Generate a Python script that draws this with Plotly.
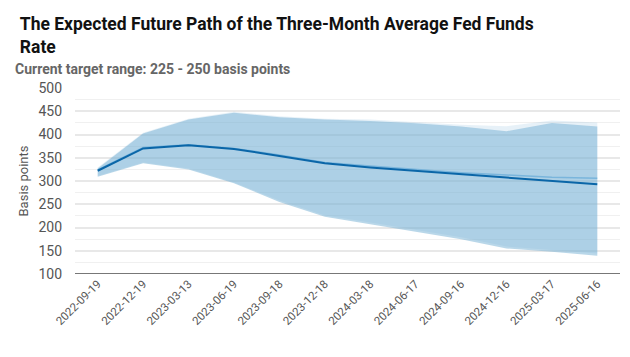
import plotly.graph_objects as go

dates = ["2022-09-19", "2022-12-19", "2023-03-13", "2023-06-19", "2023-09-18", "2023-12-18",
         "2024-03-18", "2024-06-17", "2024-09-16", "2024-12-16", "2025-03-17", "2025-06-16"]

# current expectation
current_mid = [322, 370, 377, 369, 354, 338, 329, 322, 314, 307, 300, 293]
current_high = [327, 402, 432, 447, 437, 432, 429, 424, 417, 407, 425, 417]
current_low = [309, 338, 325, 295, 255, 223, 207, 191, 175, 155, 148, 139]

# previous expectation
previous_mid = [324, 372, 378, 370, 356, 340, 332, 325, 318, 313, 308, 306]
previous_high = [329, 404, 434, 449, 439, 434, 432, 427, 421, 418, 430, 426]
previous_low = [311, 340, 327, 297, 258, 226, 211, 195, 179, 159, 152, 144]

fig = go.Figure()

fig.add_trace(go.Scatter(x=dates, y=previous_high, mode="lines", line=dict(width=0),
                         showlegend=False, hoverinfo="skip"))
fig.add_trace(go.Scatter(x=dates, y=previous_low, mode="lines", line=dict(width=0),
                         fill="tonexty", fillcolor="rgba(120,180,215,0.18)",
                         showlegend=False, hoverinfo="skip"))
fig.add_trace(go.Scatter(x=dates, y=current_high, mode="lines", line=dict(width=0),
                         showlegend=False, hoverinfo="skip"))
fig.add_trace(go.Scatter(x=dates, y=current_low, mode="lines", line=dict(width=0),
                         fill="tonexty", fillcolor="rgba(115,176,212,0.5)",
                         showlegend=False, hoverinfo="skip"))
fig.add_trace(go.Scatter(x=dates, y=previous_mid, mode="lines",
                         line=dict(color="rgba(100,170,215,0.7)", width=1.5),
                         showlegend=False))
fig.add_trace(go.Scatter(x=dates, y=current_mid, mode="lines",
                         line=dict(color="#0a66a8", width=2),
                         showlegend=False))

fig.update_layout(
    width=622, height=349,
    margin=dict(l=67, r=10, t=80, b=83),
    paper_bgcolor="white", plot_bgcolor="white",
    font=dict(family="Roboto, sans-serif", color="#555555"),
    title=dict(text="<b>The Expected Future Path of the Three-Month Average Fed Funds<br>Rate</b>",
               x=0.019, xanchor="left", y=0.936, yanchor="top",
               font=dict(size=17.5, color="#111111")),
    annotations=[dict(text="<b>Current target range: 225 - 250 basis points</b>",
                      xref="paper", yref="paper", x=-0.113, xanchor="left",
                      y=1.0, yshift=19, yanchor="middle", showarrow=False,
                      font=dict(size=14, color="#666666"))],
)
fig.update_xaxes(type="category", range=[-0.5, 11.5], tickangle=-45, automargin=False,
                 tickfont=dict(size=11.5, color="#555555"), showgrid=False,
                 ticks="", showline=False)
fig.update_yaxes(range=[100, 500], tickvals=[100, 150, 200, 250, 300, 350, 400, 450, 500],
                 automargin=False, ticklabelstandoff=12,
                 tickfont=dict(size=14, color="#555555"),
                 title=dict(text="Basis points", font=dict(size=13, color="#555555"), standoff=6),
                 showgrid=True, gridcolor="#e8e8e8", gridwidth=1.5,
                 minor=dict(dtick=25, showgrid=True, gridcolor="#f0f0f0", gridwidth=1),
                 zeroline=False, showline=False, ticks="")
fig.add_shape(type="line", xref="paper", yref="y", x0=0, x1=1, y0=100, y1=100,
              line=dict(color="#777777", width=2))

fig.write_html("out.html")
